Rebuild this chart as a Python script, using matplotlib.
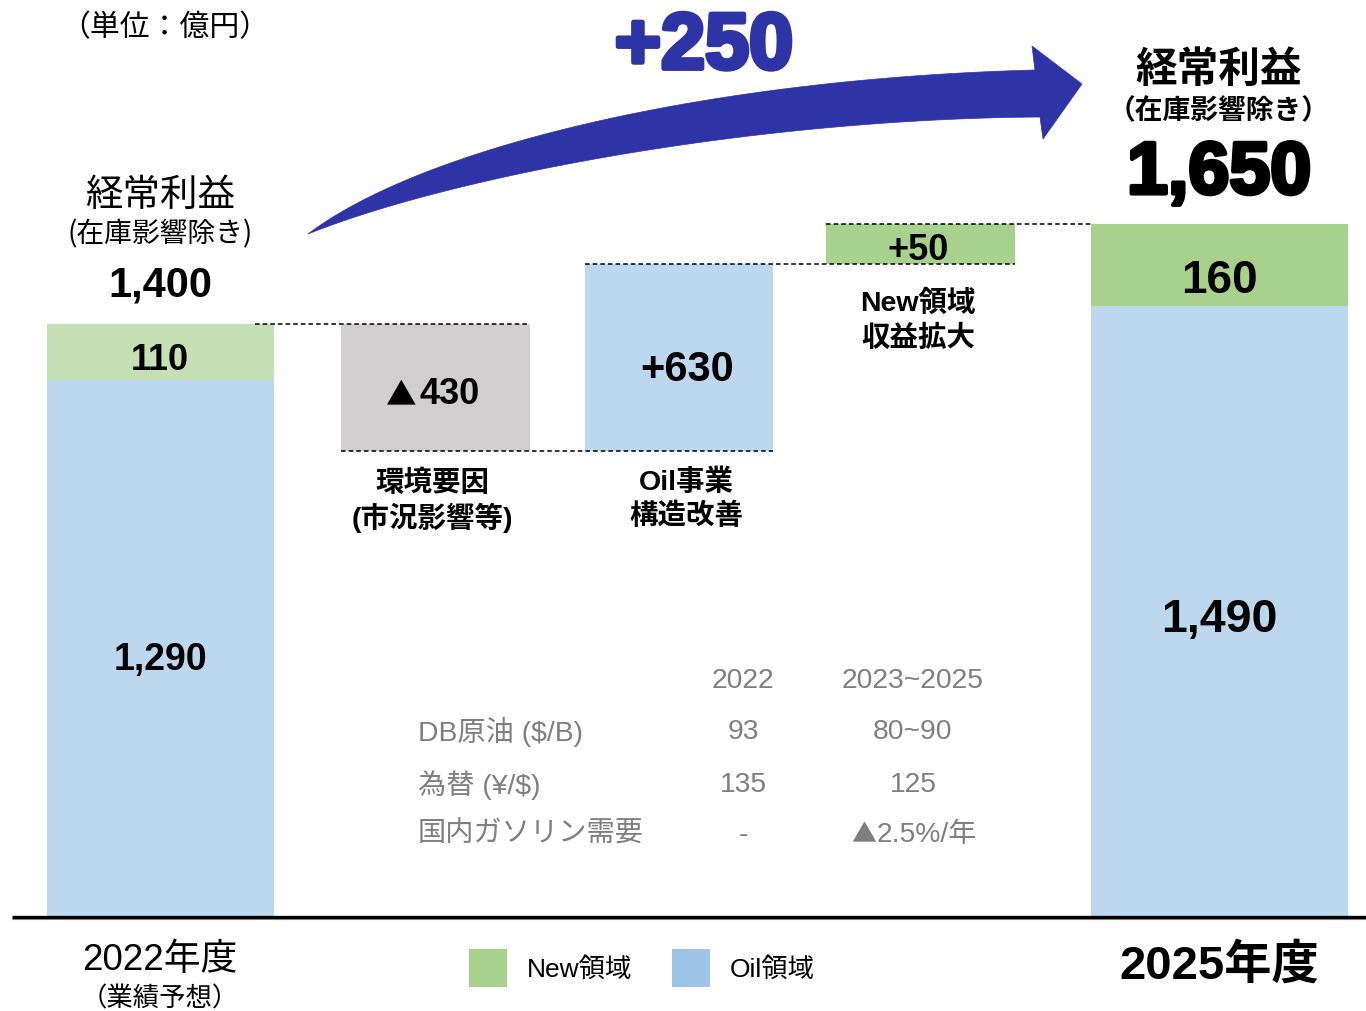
import numpy as np
import matplotlib
matplotlib.use('Agg')
import matplotlib.pyplot as plt
from matplotlib.patches import Polygon
import matplotlib.patheffects as pe

plt.rcParams['font.family'] = ['Liberation Sans', 'Noto Sans CJK JP', 'DejaVu Sans']

# ---------------- data ----------------
steps = ['2022年度', '環境要因', 'Oil事業構造改善', 'New領域収益拡大', '2025年度']
oil_2022 = 1290
new_2022 = 110
delta_env = -430
delta_oil = 630
delta_new = 50
oil_2025 = 1490
new_2025 = 160

table_cols = ['2022', '2023~2025']
table_rows = ['DB原油 ($/B)', '為替 (¥/$)', '国内ガソリン需要']
table_2022 = ['93', '135', '-']
table_2025 = ['80~90', '125', '2.5%/年']
table_2025_down = [False, False, True]

legend_labels = ['New領域', 'Oil領域']

# ---------------- derived levels ----------------
total_2022 = oil_2022 + new_2022
lvl_env = total_2022 + delta_env
lvl_oil = lvl_env + delta_oil
lvl_new = lvl_oil + delta_new
total_2025 = oil_2025 + new_2025

# ---------------- styling ----------------
BLUE = '#bdd7ee'
GREEN_L = '#c5e0b4'
GREEN = '#a9d18e'
GRAY = '#d0cece'
LEG_BLUE = '#9dc3e6'
NAVY = '#2e33a5'
TGRAY = '#7f7f7f'
JP = ['Noto Sans CJK JP', 'DejaVu Sans']
LAT = ['Liberation Sans', 'Noto Sans CJK JP', 'DejaVu Sans']

W, H = 1366, 1012
BASE = 917
DY = 3  # small vertical text offset
fig = plt.figure(figsize=(W / 100, H / 100), dpi=100)

# schematic (non-linear) value scale of the original slide
kv = np.array([-10000, 0, 970, 1290, 1400, 1490, 1600, 1650, 2000, 100000], float)
kp = np.array([-4800, 0, 465, 536, 592, 610, 652, 692, 917, 79000], float)


def fwd(v):
    return np.interp(v, kv, kp)


def inv(p):
    return np.interp(p, kp, kv)


ax = fig.add_axes([0, (H - BASE) / H, 1, BASE / H])
ax.set_yscale('function', functions=(fwd, inv))
ax.set_xlim(0, W)
ax.set_ylim(0, 2000)
ax.axis('off')

# bar geometry (x in pixel units)
x = [160.5, 435.5, 679, 920.5, 1219.5]
w = [227, 189, 188, 189, 257]

ax.bar(x[0], oil_2022, width=w[0], color=BLUE, zorder=2)
ax.bar(x[0], new_2022, bottom=oil_2022, width=w[0], color=GREEN_L, zorder=2)
ax.bar(x[1], -delta_env, bottom=lvl_env, width=w[1], color=GRAY, zorder=2)
ax.bar(x[2], delta_oil, bottom=lvl_env, width=w[2], color=BLUE, zorder=2)
ax.bar(x[3], delta_new, bottom=lvl_oil, width=w[3], color=GREEN, zorder=2)
ax.bar(x[4], oil_2025, width=w[4], color=BLUE, zorder=2)
ax.bar(x[4], new_2025, bottom=oil_2025, width=w[4], color=GREEN, zorder=2)

dash = dict(color='black', lw=1.1, ls=(0, (3, 2)), zorder=3)
ax.plot([255, x[1] + w[1] / 2], [total_2022] * 2, **dash)
ax.plot([x[1] - w[1] / 2, x[2] + w[2] / 2], [lvl_env] * 2, **dash)
ax.plot([x[2] - w[2] / 2, x[3] + w[3] / 2], [lvl_oil] * 2, **dash)
ax.plot([x[3] - w[3] / 2, x[4] - w[4] / 2], [lvl_new] * 2, **dash)

# ---------------- overlay in pixel coords ----------------
ov = fig.add_axes([0, 0, 1, 1], zorder=5)
ov.set_xlim(0, W)
ov.set_ylim(H, 0)
ov.axis('off')
ov.patch.set_alpha(0)


def T(xp, yp, s, **kw):
    kw.setdefault('ha', 'center')
    kw.setdefault('va', 'center')
    return ov.text(xp, yp + DY, s, **kw)


# baseline
ov.plot([12, W], [BASE + 1, BASE + 1], color='black', lw=2.4, solid_capstyle='butt', zorder=4)
ov.plot([12, W], [BASE + 3, BASE + 3], color='#9a9a9a', lw=0.8, solid_capstyle='butt', zorder=3)


def bez(p0, c1, c2, p3, n=80):
    t = np.linspace(0, 1, n)[:, None]
    p0, c1, c2, p3 = map(np.array, (p0, c1, c2, p3))
    return ((1 - t) ** 3) * p0 + 3 * ((1 - t) ** 2) * t * c1 + 3 * (1 - t) * t ** 2 * c2 + t ** 3 * p3


upper = bez((308, 235), (420, 150), (700, 80), (1035, 71))
lower = bez((308, 235), (450, 178), (750, 120), (1040, 118))
head = np.array([(1032, 47), (1082, 85), (1043, 140)])
poly = np.vstack([upper, head, lower[::-1]])
ov.add_patch(Polygon(poly, closed=True, fc=NAVY, ec=NAVY, lw=0.5))

T(704, 46, f'+{total_2025 - total_2022}', fontsize=57, fontweight='bold', color=NAVY, family=LAT,
  path_effects=[pe.withStroke(linewidth=3.5, foreground=NAVY)])

# headers
T(165, 25, '（単位：億円）', fontsize=21.5, family=JP)
T(160, 192, '経常利益', fontsize=27, family=JP)
T(160, 231, '(在庫影響除き)', fontsize=20, family=JP)
T(160, 282, f'{total_2022:,}', fontsize=30, fontweight='bold', family=LAT)

T(1219, 67, '経常利益', fontsize=30, fontweight='bold', family=JP)
T(1219, 108, '（在庫影響除き）', fontsize=20, fontweight='bold', family=JP)
T(1219, 172, f'{total_2025:,}', fontsize=53, fontweight='bold', family=LAT,
  path_effects=[pe.withStroke(linewidth=3, foreground='black')])

# bar values
bl = dict(fontweight='bold', family=LAT)
T(160, 357, f'{new_2022}', fontsize=26, **bl)
T(160, 657, f'{oil_2022:,}', fontsize=27, **bl)
T(416, 392, '▲', fontsize=22, ha='right', family=JP, fontweight='bold')
T(419, 392, f'{abs(delta_env)}', fontsize=26, ha='left', **bl)
T(687, 367, f'+{delta_oil}', fontsize=30, **bl)
T(918, 247, f'+{delta_new}', fontsize=26, **bl)
T(1219, 278, f'{new_2025}', fontsize=33, **bl)
T(1219, 617, f'{oil_2025:,}', fontsize=33.5, **bl)

# step labels
sl = dict(fontsize=20.5, fontweight='bold', family=LAT)
T(432, 480, '環境要因', **sl)
T(432, 515, '(市況影響等)', **sl)
T(686, 479, 'Oil事業', **sl)
T(686, 513, '構造改善', **sl)
T(918, 300, 'New領域', **sl)
T(918, 335, '収益拡大', **sl)

# assumptions table
tl = dict(fontsize=20.3, color=TGRAY, family=LAT)
T(743, 678, table_cols[0], **tl)
T(913, 678, table_cols[1], **tl)
for i, ypx in enumerate([729, 782, 832]):
    T(418, ypx, table_rows[i], ha='left', **tl)
    T(743, ypx, table_2022[i], **tl)
    if table_2025_down[i]:
        T(876, ypx, '▲', fontsize=18, color=TGRAY, ha='right', family=JP)
        T(877, ypx, table_2025[i], ha='left', **tl)
    else:
        T(913, ypx, table_2025[i], **tl)

# bottom labels
T(160, 958, '2022年度', fontsize=26.5, family=LAT)
T(160, 996, '（業績予想）', fontsize=19, family=JP)
T(1219, 963, '2025年度', fontsize=34, fontweight='bold', family=LAT)

# legend
ov.add_patch(plt.Rectangle((469, 950), 38, 38, color=GREEN, lw=0))
T(527, 967, legend_labels[0], fontsize=19, ha='left', family=LAT)
ov.add_patch(plt.Rectangle((672, 950), 38, 38, color=LEG_BLUE, lw=0))
T(730, 967, legend_labels[1], fontsize=19, ha='left', family=LAT)

fig.savefig('out.png', dpi=100)
